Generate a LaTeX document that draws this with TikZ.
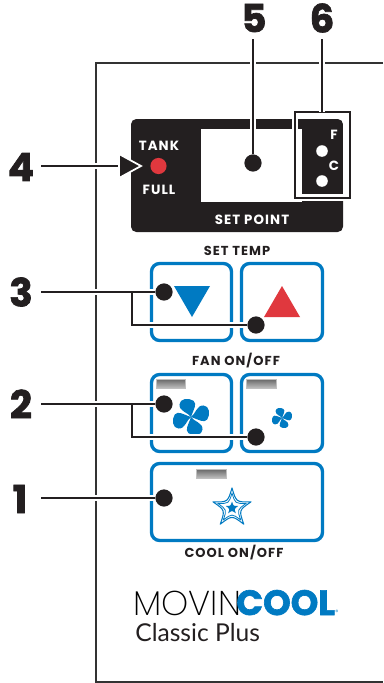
\documentclass[tikz,border=0pt]{standalone}
\usepackage{fontspec}
\usepackage{tikz}
\usetikzlibrary{calc}
\setmainfont{Poppins}
\newfontfamily\numfont[FakeBold=1.8]{Poppins}
\newfontfamily\capfont[LetterSpace=8]{Poppins}
\newfontfamily\thinfont{Poppins ExtraLight}
\newfontfamily\logofont{Lato}
\definecolor{PanelBlue}{RGB}{0,122,194}
\definecolor{PanelRed}{RGB}{224,56,62}
\definecolor{PanelInk}{RGB}{35,31,32}
\tikzset{
  callnum/.style={font=\numfont\bfseries\fontsize{22}{22}\selectfont, text=PanelInk, inner sep=0pt},
  leader/.style={draw=PanelInk, line width=1.2pt, preaction={draw=white, line width=3pt}},
  dotmark/.style={circle, fill=PanelInk, minimum size=9.8pt, inner sep=0pt},
  btn/.style={draw=PanelBlue, line width=1.9pt, rounded corners=4.6pt, fill=white},
  capt/.style={font=\capfont\fontsize{7.4}{8}\selectfont\bfseries, text=PanelInk, inner sep=0pt},
  onpanel/.style={font=\capfont\fontsize{7.6}{8}\selectfont\bfseries, text=white, inner sep=0pt},
  lamp/.style={top color=black!60, middle color=black!95, bottom color=black!25, draw=black!25, line width=0.3pt},
  logotext/.style={inner sep=0pt, anchor=base west, text depth=0pt},
}
\newcommand{\fanblades}[2]{% centre, radius
  \foreach \ang in {0,90,180,270}
    \fill[PanelBlue, shift={(#1)}, rotate=\ang, scale=#2]
      (0,0) .. controls (-0.15,-0.25) and (-0.66,-0.3) .. (-0.64,-0.7)
      .. controls (-0.62,-1.02) and (-0.15,-1.1) .. (0.14,-0.9)
      .. controls (0.36,-0.72) and (0.14,-0.42) .. (0,0) -- cycle;
}
\begin{document}
\begin{tikzpicture}[x=0.02cm, y=-0.02cm]
  \useasboundingbox (0,0) rectangle (383,683);

  % Outline of the unit
  \draw[black!80, line width=0.75pt] (383,63) -- (96,63) -- (96,682) -- (383,682);

  % Display
  \fill[PanelInk, rounded corners=3pt] (131,119) rectangle (343,232);
  \fill[white] (201,129) rectangle (302,202);
  \fill[white] (292,112) rectangle (302,129);
  \fill[white] (295,194) rectangle (350,201);
  \draw[PanelInk, line width=0.7pt, preaction={draw=white, line width=2.4pt}] (295,112) rectangle (350,198);
  \fill[PanelInk] (298,119) rectangle (302,129);
  \fill[white] (343.4,115) rectangle (348.6,196);
  \fill[white] (297,194.4) rectangle (302,196.4);

  \node[onpanel] (tank) at (159,146) {TANK};
  \node[onpanel] (full) at (159,190) {FULL};
  \node[onpanel] (setpoint) at (252,220) {SET POINT};
  \node[circle, fill=PanelRed, minimum size=9.2pt, inner sep=0pt] (fullled) at (158.5,166) {};
  \node[onpanel] (flabel) at (334,134.5) {F};
  \node[onpanel] (clabel) at (334,166) {C};
  \node[circle, fill=white, minimum size=6.6pt, inner sep=0pt] (fhole) at (322,151) {};
  \node[circle, fill=white, minimum size=6.6pt, inner sep=0pt] (chole) at (322,181) {};

  % Buttons
  \node[capt] (settemp) at (237,251) {SET TEMP};
  \node[capt] (fanlabel) at (236,361) {FAN ON/OFF};
  \node[capt] (coollabel) at (234,552.5) {COOL ON/OFF};
  \draw[btn] (151.5,263.5) rectangle (231.5,340.5);
  \draw[btn] (241.5,263.5) rectangle (322.5,340.5);
  \draw[btn] (151.5,374.5) rectangle (231.5,451.5);
  \draw[btn] (241.5,374.5) rectangle (322.5,451.5);
  \draw[btn] (151.5,463.5) rectangle (322.5,540.5);

  \fill[PanelBlue] (174,286) -- (210,286) -- (192,317) -- cycle;
  \fill[PanelRed] (264,317) -- (300,317) -- (282,286) -- cycle;
  \path[lamp] (156,379) rectangle (185,388);
  \path[lamp] (246,379) rectangle (276,388);
  \path[lamp] (196,469) rectangle (226,478);
  \fanblades{191,417}{18}
  \fanblades{282,418}{10}

  % Star
  \begin{scope}[shift={(232,508)}]
    \foreach \rad/\wd in {20/0.6pt, 15/0.45pt}
      \draw[PanelBlue, line width=\wd, line join=round]
        (-90:\rad) .. controls (-54:0.36*\rad) .. (-18:\rad)
        .. controls (18:0.36*\rad) .. (54:\rad)
        .. controls (90:0.36*\rad) .. (126:\rad)
        .. controls (162:0.36*\rad) .. (198:\rad)
        .. controls (234:0.36*\rad) .. cycle;
    \fill[PanelBlue]
      (-90:6.5) .. controls (-54:2.4) .. (-18:6.5)
      .. controls (18:2.4) .. (54:6.5)
      .. controls (90:2.4) .. (126:6.5)
      .. controls (162:2.4) .. (198:6.5)
      .. controls (234:2.4) .. cycle;
  \end{scope}

  % Logo
  \node[logotext, font=\thinfont\fontsize{19.6}{21}\selectfont, text=black] (movin) at (133,615) {MOVIN};
  \node[logotext, font=\numfont\bfseries\fontsize{20}{21}\selectfont, text=PanelBlue] (cool) at (236,615) {COOL};
  \node[inner sep=0pt, font=\fontsize{3.5}{4}\selectfont, text=PanelBlue] (regmark) at (337,612) {®};
  \node[inner sep=0pt, anchor=base west, font=\logofont\fontsize{14}{14}\selectfont, text=PanelInk] (classic) at (135,641.5) {Classic Plus};

  % Callouts
  \node[callnum] (n5) at (254,18) {5};
  \node[callnum] (n6) at (322,18) {6};
  \node[callnum] (n4) at (21,167) {4};
  \node[callnum] (n3) at (21,292) {3};
  \node[callnum] (n2) at (21,404) {2};
  \node[callnum] (n1) at (20,499) {1};
  \node[dotmark] (d5) at (253,163) {};
  \node[dotmark] (d3a) at (164,292) {};
  \node[dotmark] (d3b) at (256,325) {};
  \node[dotmark] (d2a) at (164,404) {};
  \node[dotmark] (d2b) at (256,437) {};
  \node[dotmark] (d1) at (164,498) {};
  \coordinate (s5) at (253,39);
  \coordinate (s6) at (322,39);
  \coordinate (e6) at (322,112);
  \coordinate (s4) at (41,166);
  \coordinate (e4) at (125,166);
  \coordinate (s3) at (41,292);
  \coordinate (j3) at (132,292);
  \coordinate (s2) at (41,404);
  \coordinate (j2) at (132,404);
  \coordinate (s1) at (41,498);

  \path[leader] (s5) -- (d5);
  \path[leader] (s6) -- (e6);
  \path[leader] (s3) -- (d3a) (j3) |- (d3b);
  \path[leader] (s2) -- (d2a) (j2) |- (d2b);
  \path[leader] (s1) -- (d1);
  \path[leader] (s4) -- (e4);
  \fill[PanelInk, draw=white, line width=1pt] (119,154) -- (141,166) -- (119,178) -- cycle;
\end{tikzpicture}
\end{document}
